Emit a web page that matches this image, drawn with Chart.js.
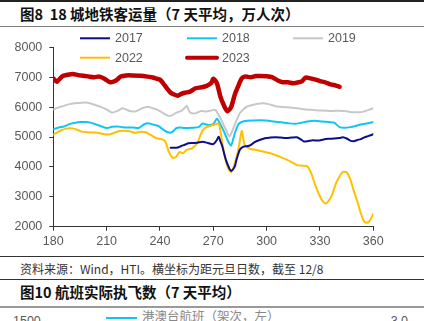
<!DOCTYPE html>
<html lang="zh">
<head>
<meta charset="UTF-8">
<title>18城地铁客运量</title>
<script src="https://cdn.jsdelivr.net/npm/chart.js"></script>
<style>
    body { margin: 0; width: 424px; height: 321px; overflow: hidden; background: #fff; position: relative; font-family: "Noto Sans CJK SC", sans-serif; }
    .rule { position: absolute; left: 0; width: 424px; }
    .txt { position: absolute; white-space: nowrap; }
    .title { font-weight: bold; font-size: 14.5px; color: #111; line-height: 20px; }
    #chart-box { position: absolute; left: 0; top: 28px; width: 424px; height: 228px; }
</style>
</head>
<body>
    <div class="rule" style="top:0;height:2px;background:#222;"></div>
    <div class="txt title" style="left:20px;top:4px;">图8&nbsp;&nbsp;18 城地铁客运量（7 天平均，万人次）</div>
    <div class="rule" style="top:26px;height:1px;background:#808080;"></div>

    <div id="chart-box"><canvas id="myChart"></canvas></div>

    <div class="rule" style="top:256px;height:1px;background:#333;"></div>
    <div class="txt" style="left:20px;top:260px;font-size:12px;line-height:17px;color:#333;">资料来源：Wind，HTI。横坐标为距元旦日数，截至 12/8</div>
    <div class="rule" style="top:279px;height:1px;background:#333;"></div>
    <div class="txt title" style="left:20px;top:282px;">图10 航班实际执飞数（7 天平均）</div>
    <div class="rule" style="top:306px;height:2px;background:#999;"></div>
    <!-- next chart, cut off at the bottom -->
    <div class="txt" style="left:13px;top:313px;font-family:'Liberation Sans',Arial;font-size:12.5px;line-height:16px;color:#595959;">1500 -</div>
    <div class="rule" style="left:106px;width:31px;top:317px;height:2px;background:#10C4F4;"></div>
    <div class="txt" style="left:142px;top:307px;font-size:12.5px;line-height:17px;color:#888;">港澳台航班（架次，左）</div>
    <div class="txt" style="left:383px;top:313px;font-family:'Liberation Sans',Arial;font-size:12.5px;line-height:16px;color:#595959;">- 3.0</div>

<script type="text/javascript">
    const seriesNames = ['2017', '2018', '2019', '2022', '2023'];

    const days2017 = [246, 248, 250, 252, 254, 256, 258, 261, 264, 267, 270, 272, 273, 274, 275, 277, 279, 280, 282, 283, 285, 287, 289, 291, 293, 296, 299, 302, 305, 308, 311, 314, 317, 319, 321, 323, 326, 329, 332, 335, 338, 341, 343, 345, 347, 349, 351, 353, 355, 357, 360];
    const vals2017 = [4640, 4640, 4650, 4700, 4740, 4790, 4800, 4810, 4840, 4800, 4760, 4900, 5010, 4850, 4700, 4250, 3950, 3860, 4000, 4230, 4580, 4680, 4690, 4730, 4820, 4900, 4960, 4980, 4990, 4980, 4970, 4980, 4990, 4930, 4850, 4860, 4890, 4880, 4920, 4940, 4950, 4970, 4990, 4950, 4880, 4860, 4900, 4930, 4990, 5030, 5090];

    const days2018 = [180, 183, 186, 189, 192, 195, 198, 201, 204, 207, 210, 213, 216, 219, 222, 225, 228, 231, 233, 236, 239, 242, 245, 247, 249, 251, 254, 258, 262, 264, 267, 270, 272, 274, 276, 278, 280, 282, 284, 286, 289, 292, 296, 300, 304, 308, 312, 316, 319, 323, 327, 331, 335, 338, 341, 344, 347, 350, 353, 356, 360];
    const vals2018 = [5260, 5320, 5350, 5430, 5470, 5500, 5500, 5480, 5420, 5360, 5300, 5340, 5350, 5330, 5320, 5320, 5300, 5420, 5460, 5420, 5370, 5240, 5150, 5170, 5290, 5320, 5300, 5310, 5340, 5450, 5400, 5430, 5610, 5420, 5180, 4900, 4720, 5100, 5420, 5500, 5540, 5550, 5560, 5550, 5520, 5490, 5460, 5440, 5470, 5520, 5540, 5520, 5500, 5480, 5330, 5310, 5330, 5370, 5420, 5450, 5500];

    const days2019 = [180, 183, 186, 189, 192, 195, 198, 201, 204, 207, 210, 213, 216, 219, 221, 223, 226, 228, 230, 233, 236, 239, 242, 245, 247, 249, 252, 254, 255, 257, 260, 263, 266, 269, 271, 273, 275, 277, 279, 281, 283, 285, 287, 289, 292, 295, 298, 301, 305, 309, 313, 317, 321, 325, 329, 333, 337, 341, 345, 348, 351, 354, 357, 360];
    const vals2019 = [5920, 5990, 6040, 6100, 6130, 6140, 6150, 6120, 6060, 6000, 5920, 5820, 5870, 5960, 5920, 5870, 5850, 5900, 5960, 6010, 5960, 5900, 5790, 5700, 5730, 5810, 5870, 5980, 6040, 5820, 5790, 5870, 5850, 5890, 5910, 5740, 5500, 5250, 5020, 5250, 5550, 5800, 5930, 6020, 6070, 6110, 6130, 6100, 6030, 6000, 5990, 5960, 5930, 5910, 5890, 5880, 5870, 5880, 5860, 5825, 5830, 5840, 5900, 5960];

    const days2022 = [180, 182, 184, 187, 190, 193, 196, 199, 202, 205, 208, 211, 214, 217, 220, 223, 226, 229, 232, 235, 238, 241, 243, 245, 247, 249, 251, 253, 255, 258, 261, 263, 265, 268, 271, 273, 274, 276, 278, 280, 282, 284, 286, 287, 288, 291, 295, 299, 303, 307, 311, 314, 317, 320, 323, 325, 327, 329, 331, 333, 335, 337, 339, 341, 343, 345, 347, 349, 351, 353, 355, 357, 358.5, 360];
    const vals2022 = [5080, 5150, 5210, 5280, 5290, 5250, 5180, 5160, 5150, 5140, 5100, 5080, 5130, 5200, 5210, 5190, 5140, 5170, 5160, 5060, 4960, 4930, 4850, 4500, 4310, 4330, 4500, 4460, 4570, 4620, 4800, 5100, 5290, 5370, 5420, 5450, 5200, 4480, 4000, 3820, 4100, 4550, 5200, 4900, 4700, 4600, 4560, 4500, 4440, 4350, 4250, 4160, 4060, 4040, 4010, 3800, 3450, 3150, 2900, 2780, 2870, 3100, 3450, 3680, 3830, 3820, 3600, 3200, 2850, 2450, 2160, 2140, 2250, 2430];

    const days2023 = [180, 182, 185, 188, 191, 194, 197, 200, 203, 206, 209, 212, 215, 218, 221, 225, 229, 233, 236, 238, 240, 242, 244, 246, 248, 250, 252, 254, 257, 260, 263, 266, 269, 270, 272, 274, 276, 278, 280, 282, 284, 286, 288, 291, 294, 297, 300, 303, 306, 309, 312, 315, 318, 320, 322, 324, 327, 330, 333, 336, 339, 341];
    const vals2023 = [6960, 6850, 7030, 7080, 7110, 7070, 7050, 7020, 7000, 7020, 6940, 6830, 6880, 7020, 7060, 7060, 7050, 7020, 6990, 6950, 6920, 6780, 6620, 6480, 6420, 6380, 6440, 6480, 6520, 6630, 6660, 6700, 6820, 6950, 6800, 6350, 6050, 5860, 6000, 6400, 6700, 6960, 7020, 7000, 7040, 7040, 7030, 7000, 6900, 6830, 6830, 6800, 6830, 6870, 6990, 6970, 6930, 6870, 6830, 6760, 6720, 6680];

    const xTicks = [180, 210, 240, 270, 300, 330, 360];
    const yTicks = [2000, 3000, 4000, 5000, 6000, 7000, 8000];

    const allDays = [days2017, days2018, days2019, days2022, days2023];
    const allVals = [vals2017, vals2018, vals2019, vals2022, vals2023];
    const colors = ['#0D0D8C', '#10C4F4', '#C8C8C8', '#FFC000', '#C00000'];
    const widths = [2, 2, 2, 2, 4.5];
    const orders = [1, 3, 4, 2, 0];

    const datasets = seriesNames.map((name, i) => ({
        label: name,
        data: allDays[i].map((d, j) => ({ x: d, y: allVals[i][j] })),
        borderColor: colors[i],
        backgroundColor: colors[i],
        borderWidth: widths[i],
        pointRadius: 0,
        tension: 0.25,
        borderCapStyle: 'round',
        borderJoinStyle: 'round',
        order: orders[i]
    }));

    // legend drawn in fixed columns, over the top of the plot
    const gridLegend = {
        id: 'gridLegend',
        afterDraw(chart) {
            const ctx = chart.ctx;
            const cols = [80, 187, 293];
            const rows = [10.3, 29.7];
            ctx.save();
            ctx.font = '12.5px "Liberation Sans", Arial';
            ctx.textBaseline = 'middle';
            ctx.textAlign = 'left';
            chart.data.datasets.forEach((ds, i) => {
                const x = cols[i % 3];
                const y = rows[Math.floor(i / 3)];
                ctx.strokeStyle = ds.borderColor;
                ctx.lineWidth = ds.borderWidth > 3 ? 4 : 2;
                ctx.lineCap = ds.borderWidth > 3 ? 'round' : 'butt';
                ctx.beginPath();
                ctx.moveTo(x, y);
                ctx.lineTo(x + 30, y);
                ctx.stroke();
                ctx.fillStyle = '#595959';
                ctx.fillText(ds.label, x + 35, y + 0.5);
            });
            ctx.restore();
        }
    };

    Chart.defaults.font.family = '"Liberation Sans", Arial, sans-serif';

    const ctx = document.getElementById('myChart').getContext('2d');
    const myChart = new Chart(ctx, {
        type: 'line',
        data: { datasets: datasets },
        options: {
            responsive: true,
            maintainAspectRatio: false,
            animation: false,
            layout: { padding: { left: 0, right: 50.7, top: 19.3, bottom: 0 } },
            plugins: { legend: { display: false }, tooltip: { enabled: false } },
            scales: {
                x: {
                    type: 'linear',
                    min: xTicks[0],
                    max: xTicks[xTicks.length - 1],
                    afterBuildTicks: axis => { axis.ticks = xTicks.map(v => ({ value: v })); },
                    afterFit: axis => { axis.height = 29.3; },
                    ticks: { color: '#595959', font: { size: 12.5 }, padding: 3, maxRotation: 0, callback: v => String(v) },
                    grid: { drawOnChartArea: false, drawTicks: true, tickLength: 4, color: '#333' },
                    border: { display: true, color: '#333', width: 1 }
                },
                y: {
                    min: yTicks[0],
                    max: yTicks[yTicks.length - 1],
                    afterBuildTicks: axis => { axis.ticks = yTicks.map(v => ({ value: v })); },
                    afterFit: axis => { axis.width = 53.3; },
                    ticks: { color: '#595959', font: { size: 12.5 }, padding: 7, callback: v => String(v) },
                    grid: { drawOnChartArea: false, drawTicks: true, tickLength: 4, color: '#333' },
                    border: { display: true, color: '#333', width: 1 }
                }
            }
        },
        plugins: [gridLegend]
    });
</script>
</body>
</html>
